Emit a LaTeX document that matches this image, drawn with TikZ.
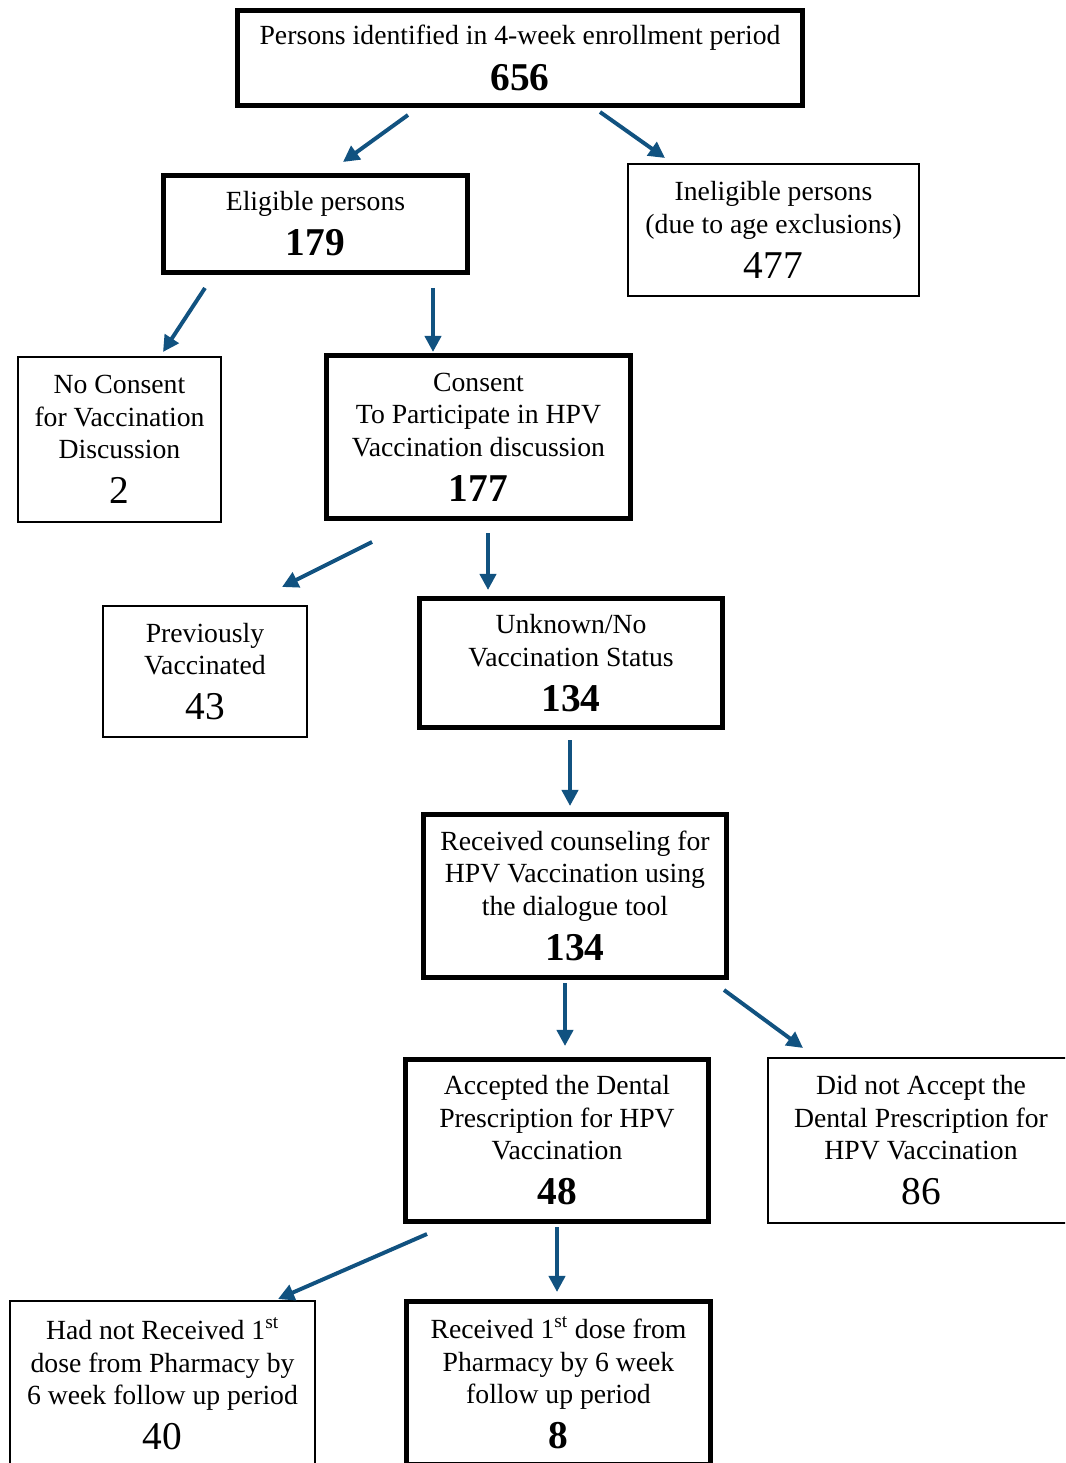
\documentclass[tikz,border=0pt]{standalone}
\usepackage{fontspec}
\setmainfont{Liberation Serif}
\usetikzlibrary{arrows.meta}

\definecolor{arrowblue}{RGB}{17,82,128}
\newcommand{\bnum}[1]{{\fontsize{28}{30}\selectfont\bfseries #1}}
\newcommand{\pnum}[1]{{\fontsize{28}{30}\selectfont #1}}

\begin{document}
\begin{tikzpicture}[x=0.025cm, y=-0.025cm,
    thickbox/.style={rectangle, draw, line width=3.5pt, align=center, inner sep=0pt,
        font=\fontsize{19.7}{23.1}\selectfont},
    thinbox/.style={rectangle, draw, line width=1.4pt, align=center, inner sep=0pt,
        font=\fontsize{19.7}{23.1}\selectfont},
    arr/.style={draw=arrowblue, line width=2.8pt, -{Triangle[length=11.5pt, width=11.5pt]}}]
    \clip (0,0) rectangle (1065,1463);

    % boxes
    \node[thickbox, minimum width=14.125cm, minimum height=2.375cm] (persons) at (520,58)
        {Persons identified in 4-week enrollment period\\[9pt]\bnum{656}};
    \node[thickbox, minimum width=7.6cm, minimum height=2.425cm] (eligible) at (315.5,224)
        {Eligible persons\\[9pt]\bnum{179}};
    \node[thinbox, minimum width=7.275cm, minimum height=3.3cm] (ineligible) at (773.5,230)
        {Ineligible persons\\(due to age exclusions)\\[9pt]\pnum{477}};
    \node[thinbox, minimum width=5.075cm, minimum height=4.125cm] (noconsent) at (119.5,439.5)
        {No Consent\\for Vaccination\\Discussion\\[9pt]\pnum{2}};
    \node[thickbox, minimum width=7.6cm, minimum height=4.075cm] (consent) at (478.5,437)
        {Consent\\To Participate in HPV\\Vaccination discussion\\[9pt]\bnum{177}};
    \node[thinbox, minimum width=5.1cm, minimum height=3.275cm] (prevvacc) at (205,671.5)
        {Previously\\Vaccinated\\[9pt]\pnum{43}};
    \node[thickbox, minimum width=7.575cm, minimum height=3.225cm] (unknown) at (571,663)
        {Unknown/No\\Vaccination Status\\[9pt]\bnum{134}};
    \node[thickbox, minimum width=7.575cm, minimum height=4.075cm] (counseled) at (575,896)
        {Received counseling for\\HPV Vaccination using\\the dialogue tool\\[9pt]\bnum{134}};
    \node[thickbox, minimum width=7.575cm, minimum height=4.05cm] (accepted) at (557,1140.5)
        {Accepted the Dental\\Prescription for HPV\\Vaccination\\[9pt]\bnum{48}};
    \node[thinbox, minimum width=7.65cm, minimum height=4.125cm] (notaccepted) at (921,1140.5)
        {Did not Accept the\\Dental Prescription for\\HPV Vaccination\\[9pt]\pnum{86}};
    \node[thinbox, minimum width=7.625cm, minimum height=4.15cm] (nodose) at (162.5,1384)
        {Had not Received 1\textsuperscript{st}\\dose from Pharmacy by\\6 week follow up period\\[9pt]\pnum{40}};
    \node[thickbox, minimum width=7.6cm, minimum height=4.075cm] (firstdose) at (558.5,1383)
        {Received 1\textsuperscript{st} dose from\\Pharmacy by 6 week\\follow up period\\[9pt]\bnum{8}};

    % arrow ends
    \coordinate (persons-l) at (408,115);  \coordinate (eligible-t) at (343,162);
    \coordinate (persons-r) at (600,112);  \coordinate (ineligible-t) at (665,158);
    \coordinate (eligible-l) at (205,288); \coordinate (noconsent-t) at (163,352);
    \coordinate (eligible-r) at (433,288); \coordinate (consent-t) at (433,352);
    \coordinate (consent-l) at (372,542);  \coordinate (prevvacc-t) at (282,587);
    \coordinate (consent-r) at (488,533);  \coordinate (unknown-t) at (488,590);
    \coordinate (unknown-b) at (570,740);  \coordinate (counseled-t) at (570,806);
    \coordinate (counseled-l) at (565,983); \coordinate (accepted-t) at (565,1046);
    \coordinate (counseled-r) at (724,990); \coordinate (notaccepted-t) at (803,1048);
    \coordinate (accepted-l) at (427,1234); \coordinate (nodose-t) at (278,1299);
    \coordinate (accepted-r) at (557,1227); \coordinate (firstdose-t) at (557,1292);

    % arrows
    \draw[arr] (persons-l) -- (eligible-t);
    \draw[arr] (persons-r) -- (ineligible-t);
    \draw[arr] (eligible-l) -- (noconsent-t);
    \draw[arr] (eligible-r) -- (consent-t);
    \draw[arr] (consent-l) -- (prevvacc-t);
    \draw[arr] (consent-r) -- (unknown-t);
    \draw[arr] (unknown-b) -- (counseled-t);
    \draw[arr] (counseled-l) -- (accepted-t);
    \draw[arr] (counseled-r) -- (notaccepted-t);
    \draw[arr] (accepted-l) -- (nodose-t);
    \draw[arr] (accepted-r) -- (firstdose-t);
\end{tikzpicture}
\end{document}
